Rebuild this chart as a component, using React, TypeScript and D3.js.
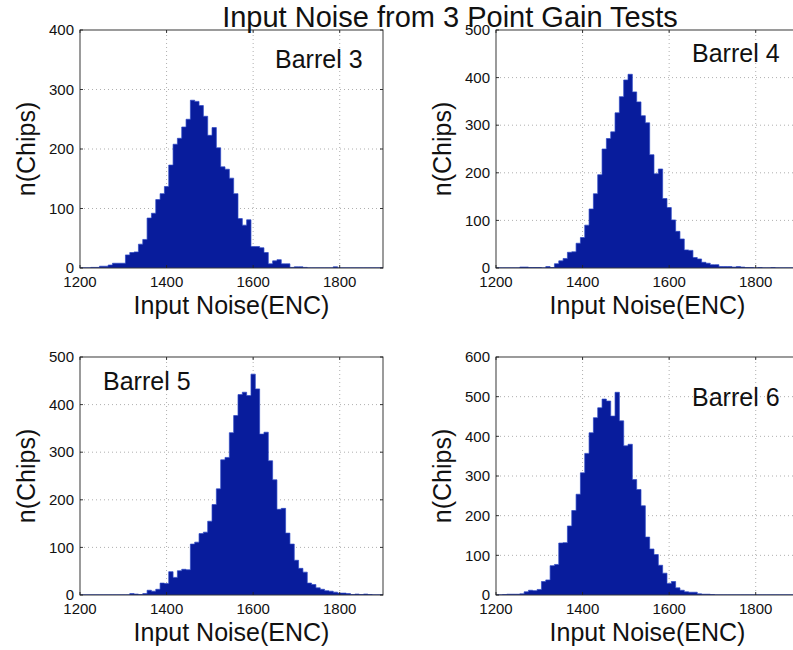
import React from "react";
import * as d3 from "d3";

// bin centres run 1200..1900 in steps of 10 ENC
const BIN_START = 1200;
const BIN_WIDTH = 10;
const X_DOMAIN = [1200, 1900];
const X_TICKS = [1200, 1400, 1600, 1800];

const barrel3 = [
  0, 0, 0, 1, 1, 3, 3, 5, 8, 8,
  8, 22, 26, 27, 40, 48, 84, 92, 115, 125,
  137, 173, 208, 218, 237, 250, 282, 280, 273, 255,
  223, 236, 202, 170, 166, 151, 125, 83, 72, 81,
  36, 36, 34, 26, 7, 12, 14, 7, 7, 1,
  2, 2, 1, 0, 0, 0, 0, 0, 0, 2,
  0, 0, 0, 0, 0, 0, 0, 0, 0, 0,
  0,
];
const barrel4 = [
  0, 0, 0, 0, 0, 0, 2, 2, 1, 1,
  1, 0, 3, 1, 9, 15, 20, 33, 34, 52,
  64, 90, 124, 156, 196, 250, 272, 286, 326, 360,
  395, 407, 370, 349, 320, 305, 238, 198, 208, 146,
  127, 101, 77, 61, 38, 37, 22, 19, 12, 10,
  7, 7, 3, 3, 3, 2, 3, 2, 1, 1,
  0, 1, 0, 0, 1, 0, 0, 0, 0, 0,
  0,
];
const barrel5 = [
  0, 0, 0, 0, 0, 0, 0, 0, 0, 0,
  0, 0, 3, 2, 1, 3, 10, 8, 12, 25,
  24, 49, 37, 51, 54, 53, 107, 111, 129, 132,
  155, 190, 223, 284, 289, 341, 377, 421, 426, 419,
  464, 433, 338, 342, 282, 242, 180, 182, 130, 107,
  73, 56, 48, 25, 22, 15, 12, 9, 8, 6,
  4, 4, 3, 1, 2, 1, 2, 1, 0, 0,
  0,
];
const barrel6 = [
  0, 0, 1, 2, 2, 2, 3, 8, 12, 11,
  14, 34, 38, 74, 77, 131, 132, 174, 213, 254,
  308, 357, 409, 447, 472, 494, 489, 451, 511, 439,
  376, 380, 291, 266, 225, 146, 116, 102, 75, 55,
  29, 34, 18, 12, 8, 7, 7, 3, 2, 2,
  1, 0, 0, 0, 0, 0, 0, 0, 0, 0,
  0, 0, 0, 0, 0, 0, 0, 0, 0, 0,
  0,
];

const TITLE = "Input Noise from 3 Point Gain Tests";
const X_LABEL = "Input Noise(ENC)";
const Y_LABEL = "n(Chips)";

const W = 793;
const H = 650;
const AX_W = 303;
const AX_H = 238;
const FONT = "'Liberation Sans', Arial, Helvetica, sans-serif";
const BAR_FILL = "#081c9c";
const BAR_EDGE = "#2c47c4";

const panels = [
  { name: "Barrel 3", counts: barrel3, yMax: 400, left: 80, top: 30, lx: 195, ly: 38 },
  { name: "Barrel 4", counts: barrel4, yMax: 500, left: 496, top: 30, lx: 196, ly: 32 },
  { name: "Barrel 5", counts: barrel5, yMax: 500, left: 80, top: 357, lx: 23, ly: 33 },
  { name: "Barrel 6", counts: barrel6, yMax: 600, left: 496, top: 357, lx: 196, ly: 49 },
];

function Panel({ p, idx }: { p: (typeof panels)[number]; idx: number }) {
  const x = d3.scaleLinear().domain(X_DOMAIN).range([p.left, p.left + AX_W]);
  const y = d3.scaleLinear().domain([0, p.yMax]).range([p.top + AX_H, p.top]);
  const yTicks = d3.range(0, p.yMax + 1, 100);

  // step outline through bin edges
  const pts: [number, number][] = p.counts.map((c, i) => [BIN_START + i * BIN_WIDTH - BIN_WIDTH / 2, c]);
  pts.push([BIN_START + (p.counts.length - 1) * BIN_WIDTH + BIN_WIDTH / 2, 0]);
  const area = d3
    .area<[number, number]>()
    .x((d) => x(d[0]))
    .y0(y(0))
    .y1((d) => y(d[1]))
    .curve(d3.curveStepAfter);
  const line = d3
    .line<[number, number]>()
    .x((d) => x(d[0]))
    .y((d) => y(d[1]))
    .curve(d3.curveStepAfter);

  const x0 = p.left;
  const x1 = p.left + AX_W;
  const y0 = p.top + AX_H;
  const y1 = p.top;
  const clipId = `clip${idx}`;

  return (
    <g>
      <clipPath id={clipId}>
        <rect x={x0} y={y1} width={AX_W} height={AX_H} />
      </clipPath>
      {/* grid */}
      <g stroke="#9a9a9a" strokeWidth={0.8} strokeDasharray="1 3">
        {X_TICKS.filter((t) => t > X_DOMAIN[0]).map((t) => (
          <line key={"gx" + t} x1={x(t)} x2={x(t)} y1={y0} y2={y1} />
        ))}
        {yTicks.filter((t) => t > 0 && t < p.yMax).map((t) => (
          <line key={"gy" + t} x1={x0} x2={x1} y1={y(t)} y2={y(t)} />
        ))}
      </g>
      <g clipPath={`url(#${clipId})`}>
        <path d={area(pts) || ""} fill={BAR_FILL} />
        <path d={line(pts) || ""} fill="none" stroke={BAR_EDGE} strokeWidth={0.7} />
        <line x1={x0} x2={x1} y1={y(0)} y2={y(0)} stroke={BAR_EDGE} strokeWidth={1.2} />
      </g>
      {/* box and ticks */}
      <rect x={x0} y={y1} width={AX_W} height={AX_H} fill="none" stroke="#222" strokeWidth={0.9} />
      <g stroke="#222" strokeWidth={0.9}>
        {X_TICKS.map((t) => (
          <g key={"tx" + t}>
            <line x1={x(t)} x2={x(t)} y1={y0} y2={y0 - 3} />
            <line x1={x(t)} x2={x(t)} y1={y1} y2={y1 + 3} />
          </g>
        ))}
        {yTicks.map((t) => (
          <g key={"ty" + t}>
            <line x1={x0} x2={x0 + 3} y1={y(t)} y2={y(t)} />
            <line x1={x1} x2={x1 - 3} y1={y(t)} y2={y(t)} />
          </g>
        ))}
      </g>
      <g fontFamily={FONT} fontSize={15} fill="#111">
        {X_TICKS.map((t) => (
          <text key={"lx" + t} x={x(t)} y={y0 + 19} textAnchor="middle">
            {t}
          </text>
        ))}
        {yTicks.map((t) => (
          <text key={"ly" + t} x={x0 - 6} y={y(t)} dy="0.35em" textAnchor="end">
            {t}
          </text>
        ))}
      </g>
      <text x={(x0 + x1) / 2} y={y0 + 46} textAnchor="middle" fontFamily={FONT} fontSize={25} fill="#111">
        {X_LABEL}
      </text>
      <text
        transform={`translate(${x0 - 45},${(y0 + y1) / 2}) rotate(-90)`}
        textAnchor="middle"
        fontFamily={FONT}
        fontSize={25}
        fill="#111"
      >
        {Y_LABEL}
      </text>
      <text x={x0 + p.lx} y={y1 + p.ly} fontFamily={FONT} fontSize={25} fill="#111">
        {p.name}
      </text>
    </g>
  );
}

export default function App() {
  return (
    <svg
      width={W}
      height={H}
      style={{ position: "absolute", left: 0, top: 0, background: "#fff" }}
    >
      <rect width={W} height={H} fill="#fff" />
      {panels.map((p, i) => (
        <Panel key={p.name} p={p} idx={i} />
      ))}
      <text x={450} y={27} textAnchor="middle" fontFamily={FONT} fontSize={29} fill="#111">
        {TITLE}
      </text>
    </svg>
  );
}
